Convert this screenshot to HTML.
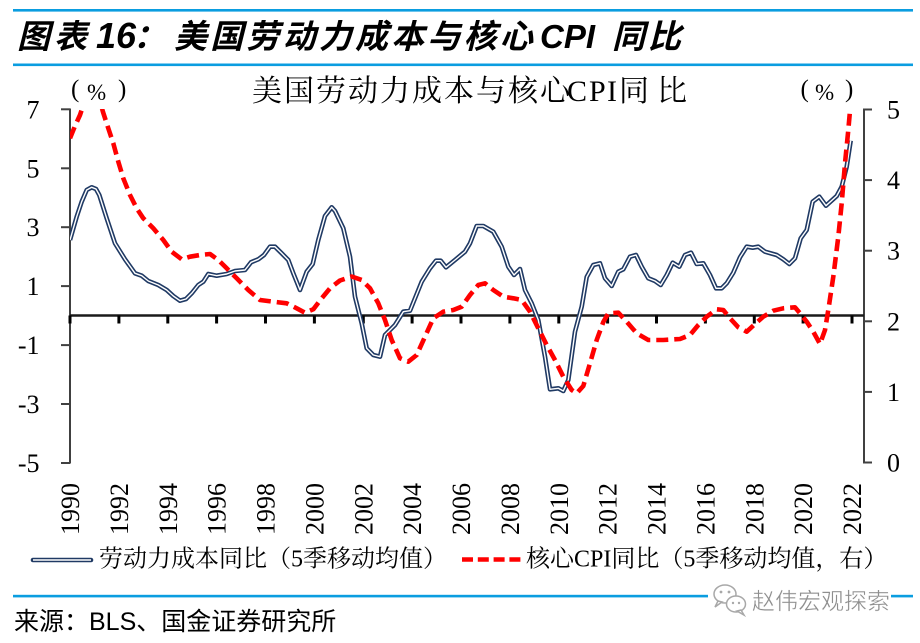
<!DOCTYPE html>
<html>
<head>
<meta charset="utf-8">
<style>
html,body{margin:0;padding:0;background:#fff;}
svg{display:block;}
.serif{font-family:"Liberation Serif","Noto Serif CJK SC",serif;}
.sans{font-family:"Liberation Sans","Noto Sans CJK SC",sans-serif;}
</style>
</head>
<body>
<svg width="920" height="643" viewBox="0 0 920 643" xmlns="http://www.w3.org/2000/svg">
<rect x="0" y="0" width="920" height="643" fill="#fff"/>
<defs>
<clipPath id="plot"><rect x="70" y="109" width="794" height="354"/></clipPath>
</defs>

<!-- header lines -->
<rect x="13" y="9" width="900" height="2.6" fill="#0a9de0"/>
<rect x="13" y="63.5" width="900" height="2.6" fill="#0a9de0"/>

<!-- main title -->
<g class="sans" font-weight="bold" font-style="italic" fill="#000">
<text x="17 54" y="48" font-size="33">图表</text>
<text x="96" y="48" font-size="36" font-family="Liberation Sans, sans-serif">16</text>
<text x="133" y="48" font-size="33">：</text>
<text x="174 210.2 246.4 282.6 318.8 355 391.2 427.4 463.6 499.8" y="48" font-size="33">美国劳动力成本与核心</text>
<text x="540" y="48" font-size="33" font-family="Liberation Sans, sans-serif">CPI</text>
<text x="612 648" y="48" font-size="33">同比</text>
</g>

<!-- chart title -->
<text class="serif" y="101" font-size="30" fill="#000" x="252 284 316 348 380 412 444 476 508 540 567 589 607 619 657">美国劳动力成本与核心CPI同比</text>

<!-- unit labels -->
<g class="serif" fill="#000">
<text x="71" y="97" font-size="25">(</text>
<text x="87" y="100" font-size="23">%</text>
<text x="118" y="97" font-size="25">)</text>
<text x="800.5" y="97" font-size="25">(</text>
<text x="815" y="100" font-size="23">%</text>
<text x="845" y="97" font-size="25">)</text>
</g>

<!-- axes -->
<g stroke="#404040" stroke-width="2" fill="none">
<line x1="70" y1="108.5" x2="70" y2="463.5"/>
<line x1="864" y1="108.5" x2="864" y2="463.5"/>
<line x1="61" y1="109.3" x2="70" y2="109.3"/>
<line x1="61" y1="168.3" x2="70" y2="168.3"/>
<line x1="61" y1="227.2" x2="70" y2="227.2"/>
<line x1="61" y1="286.1" x2="70" y2="286.1"/>
<line x1="61" y1="345.1" x2="70" y2="345.1"/>
<line x1="61" y1="404" x2="70" y2="404"/>
<line x1="61" y1="463" x2="70" y2="463"/>
<line x1="864" y1="109.5" x2="872" y2="109.5"/>
<line x1="864" y1="180.1" x2="872" y2="180.1"/>
<line x1="864" y1="250.7" x2="872" y2="250.7"/>
<line x1="864" y1="321.3" x2="872" y2="321.3"/>
<line x1="864" y1="391.9" x2="872" y2="391.9"/>
<line x1="864" y1="462.5" x2="872" y2="462.5"/>
</g>
<line x1="70" y1="315.5" x2="864" y2="315.5" stroke="#1a1a1a" stroke-width="2.5"/>
<g stroke="#000" stroke-width="3">
<line x1="70" y1="315.5" x2="70" y2="323.5"/>
<line x1="118.9" y1="315.5" x2="118.9" y2="323.5"/>
<line x1="167.8" y1="315.5" x2="167.8" y2="323.5"/>
<line x1="216.6" y1="315.5" x2="216.6" y2="323.5"/>
<line x1="265.5" y1="315.5" x2="265.5" y2="323.5"/>
<line x1="314.4" y1="315.5" x2="314.4" y2="323.5"/>
<line x1="363.3" y1="315.5" x2="363.3" y2="323.5"/>
<line x1="412.1" y1="315.5" x2="412.1" y2="323.5"/>
<line x1="461" y1="315.5" x2="461" y2="323.5"/>
<line x1="509.9" y1="315.5" x2="509.9" y2="323.5"/>
<line x1="558.8" y1="315.5" x2="558.8" y2="323.5"/>
<line x1="607.6" y1="315.5" x2="607.6" y2="323.5"/>
<line x1="656.5" y1="315.5" x2="656.5" y2="323.5"/>
<line x1="705.4" y1="315.5" x2="705.4" y2="323.5"/>
<line x1="754.3" y1="315.5" x2="754.3" y2="323.5"/>
<line x1="803.1" y1="315.5" x2="803.1" y2="323.5"/>
<line x1="852" y1="315.5" x2="852" y2="323.5"/>
</g>

<!-- left y labels -->
<g class="serif" font-size="26" fill="#000" text-anchor="end">
<text x="39.5" y="118.3">7</text>
<text x="39.5" y="177.3">5</text>
<text x="39.5" y="236.2">3</text>
<text x="39.5" y="295.1">1</text>
<text x="39.5" y="354.1">-1</text>
<text x="39.5" y="413">-3</text>
<text x="39.5" y="472">-5</text>
</g>
<!-- right y labels -->
<g class="serif" font-size="26" fill="#000">
<text x="887" y="118.5">5</text>
<text x="887" y="189.1">4</text>
<text x="887" y="259.7">3</text>
<text x="887" y="330.3">2</text>
<text x="887" y="400.9">1</text>
<text x="887" y="471.5">0</text>
</g>

<!-- x labels -->
<g class="serif" font-size="26" fill="#000">
<text transform="translate(79,535) rotate(-90)">1990</text>
<text transform="translate(127.9,535) rotate(-90)">1992</text>
<text transform="translate(176.8,535) rotate(-90)">1994</text>
<text transform="translate(225.6,535) rotate(-90)">1996</text>
<text transform="translate(274.5,535) rotate(-90)">1998</text>
<text transform="translate(323.4,535) rotate(-90)">2000</text>
<text transform="translate(372.3,535) rotate(-90)">2002</text>
<text transform="translate(421.1,535) rotate(-90)">2004</text>
<text transform="translate(470,535) rotate(-90)">2006</text>
<text transform="translate(518.9,535) rotate(-90)">2008</text>
<text transform="translate(567.8,535) rotate(-90)">2010</text>
<text transform="translate(616.6,535) rotate(-90)">2012</text>
<text transform="translate(665.5,535) rotate(-90)">2014</text>
<text transform="translate(714.4,535) rotate(-90)">2016</text>
<text transform="translate(763.3,535) rotate(-90)">2018</text>
<text transform="translate(812.1,535) rotate(-90)">2020</text>
<text transform="translate(861,535) rotate(-90)">2022</text>
</g>

<!-- series -->
<g clip-path="url(#plot)" fill="none" stroke-linejoin="round">
<polyline stroke="#203a64" stroke-width="4.6" points="70,240 76.7,216.7 81.7,201.7 86.7,190 91.7,187.3 96,189 99.3,195 106.7,218.3 115,243.3 125,259.3 135,273.3 141.7,275.7 148.3,281 158.3,285 166.7,290 173.3,296 180,300.7 186,299 191.7,293.3 198.3,285 203.3,281.7 208.3,274 216.7,275.7 226.7,274 235,271 245,270 251,262.3 258.3,259.3 264,255 270,246.7 275,246.7 281.7,253.3 288.3,260 293.3,273.3 300,290 306.7,271.7 312.7,264 318.3,240 325,216 331.7,207.3 335,211 343.3,228.3 350,256.7 355,296.7 361.7,323.3 366.7,348.3 373.3,355 380,356.7 385,335 395,325 403.3,311.7 410,310.7 421.7,281.7 430,268.3 436,260.7 440.7,260.7 446,267.3 455,260 465,251.7 470,243.3 476.7,226 483.3,226 493.3,231.7 501.7,246.7 508.3,266.7 514,275 520,269 525,290 531.7,303.3 538.3,320 545,356.7 550,389.3 558.3,388.3 563.3,391 568.3,380 575,331.7 581.7,306.7 586.7,277 593.3,265 600,263.3 605,278.3 611.7,286 618.3,271.7 623.3,269.3 630,256.7 636,255 641.7,266.7 648.3,278.3 655,281 660.7,285 666.7,275 672.7,262.7 679.3,266.7 685,255 691,252.7 696.7,264 703.3,263.3 710,275 716,288.3 721.7,288.3 726.7,283.3 733.3,272.7 740,257.3 746.7,246.7 752.7,247.7 758.3,246.7 765,251.7 776.7,255 783.3,259.3 789.3,264 795,258.3 800.7,238.3 806.7,230 812.7,201.7 819.3,196.7 826,205.7 836.7,196 841.7,186.7 846.7,166.7 850.7,140.7"/>
<polyline stroke="#ffffff" stroke-width="1.4" points="70,240 76.7,216.7 81.7,201.7 86.7,190 91.7,187.3 96,189 99.3,195 106.7,218.3 115,243.3 125,259.3 135,273.3 141.7,275.7 148.3,281 158.3,285 166.7,290 173.3,296 180,300.7 186,299 191.7,293.3 198.3,285 203.3,281.7 208.3,274 216.7,275.7 226.7,274 235,271 245,270 251,262.3 258.3,259.3 264,255 270,246.7 275,246.7 281.7,253.3 288.3,260 293.3,273.3 300,290 306.7,271.7 312.7,264 318.3,240 325,216 331.7,207.3 335,211 343.3,228.3 350,256.7 355,296.7 361.7,323.3 366.7,348.3 373.3,355 380,356.7 385,335 395,325 403.3,311.7 410,310.7 421.7,281.7 430,268.3 436,260.7 440.7,260.7 446,267.3 455,260 465,251.7 470,243.3 476.7,226 483.3,226 493.3,231.7 501.7,246.7 508.3,266.7 514,275 520,269 525,290 531.7,303.3 538.3,320 545,356.7 550,389.3 558.3,388.3 563.3,391 568.3,380 575,331.7 581.7,306.7 586.7,277 593.3,265 600,263.3 605,278.3 611.7,286 618.3,271.7 623.3,269.3 630,256.7 636,255 641.7,266.7 648.3,278.3 655,281 660.7,285 666.7,275 672.7,262.7 679.3,266.7 685,255 691,252.7 696.7,264 703.3,263.3 710,275 716,288.3 721.7,288.3 726.7,283.3 733.3,272.7 740,257.3 746.7,246.7 752.7,247.7 758.3,246.7 765,251.7 776.7,255 783.3,259.3 789.3,264 795,258.3 800.7,238.3 806.7,230 812.7,201.7 819.3,196.7 826,205.7 836.7,196 841.7,186.7 846.7,166.7 850.7,140.7"/>
<polyline stroke="#ff0000" stroke-width="4.6" stroke-dasharray="12 6" points="70,138.3 75,126 80,115 85,100 91,92 96,95 101,105 103,112 108.3,128.3 113.3,143.3 118.3,161.7 123.3,178.3 130,195 136.7,208.3 143.3,218.3 153.3,228.3 163.3,240 171.7,251.7 181.7,259.3 190,256.7 200,255 210,254 218.3,260 226.7,268.3 236.7,278.3 248.3,290 260,300 273.3,301.7 286.7,303.3 296.7,308.3 305,312.7 313.3,309.3 321.7,298.3 330,288.3 340,280.5 351.7,276.5 361.7,280 370,288.3 378.3,303.3 385,320 391.7,340 400,358.3 408.3,361.7 416.7,355 425,336.7 433.3,318.3 443.3,311.7 453.3,310 461.7,306.7 470,295 478.3,285 485,283.3 493.3,290 503.3,296.7 513.3,298.3 521.7,300 530,311.7 538.3,328.3 546.7,345 555,360 563.3,376.7 571.7,390 576.7,393.3 583.3,386 590,363.3 596.7,340 603.3,322 608.3,313.3 618.3,312.7 626.7,321.7 636.7,333.3 648.3,340 663.3,340 680,339 690,335 698.3,325 706.7,316.7 716.7,309.3 723.3,310 730,318.3 738.3,327.3 746.7,331.7 755,324 763.3,316.7 773.3,310.7 783.3,308.3 795,307.3 800,313.3 806.7,321.7 813.3,331.7 820,344 825,330 828.3,310 833.3,276.7 838.3,236.7 841.7,203.3 845,163.3 848.3,130 850.5,105 852,95"/>
</g>

<!-- legend -->
<line x1="33" y1="560" x2="91" y2="560" stroke="#203a64" stroke-width="4.6" stroke-linecap="round"/>
<line x1="33" y1="560" x2="91" y2="560" stroke="#fff" stroke-width="1.4"/>
<text class="serif" x="99" y="566.5" font-size="24" fill="#000">劳动力成本同比（5季移动均值）</text>
<line x1="462" y1="559.5" x2="521" y2="559.5" stroke="#ff0000" stroke-width="4.6" stroke-dasharray="11 4.8"/>
<text class="serif" x="526" y="566.5" font-size="24" fill="#000">核心CPI同比（5季移动均值，右）</text>

<!-- bottom line -->
<rect x="13" y="594.8" width="900" height="2.6" fill="#0a9de0"/>

<!-- watermark -->
<rect x="708" y="586" width="183" height="14" fill="#fff"/>
<g fill="#fff" stroke="#a8a8a8" stroke-width="1.5">
<ellipse cx="725" cy="594" rx="11" ry="9"/>
<path d="M718 601 L715 607 L722 602 Z"/>
<ellipse cx="736" cy="604" rx="9.5" ry="8"/>
<path d="M741 610 L744 615 L737 611 Z"/>
</g>
<g fill="#a8a8a8">
<circle cx="721" cy="592" r="1.4"/><circle cx="729" cy="592" r="1.4"/>
<circle cx="733" cy="603" r="1.2"/><circle cx="739" cy="603" r="1.2"/>
</g>
<text class="sans" x="752" y="609" font-size="23" fill="#8e8e8e" stroke="#fff" stroke-width="0.4">赵伟宏观探索</text>

<!-- source -->
<text class="sans" x="14" y="630" font-size="25" fill="#000">来源：BLS、国金证券研究所</text>
</svg>
</body>
</html>
